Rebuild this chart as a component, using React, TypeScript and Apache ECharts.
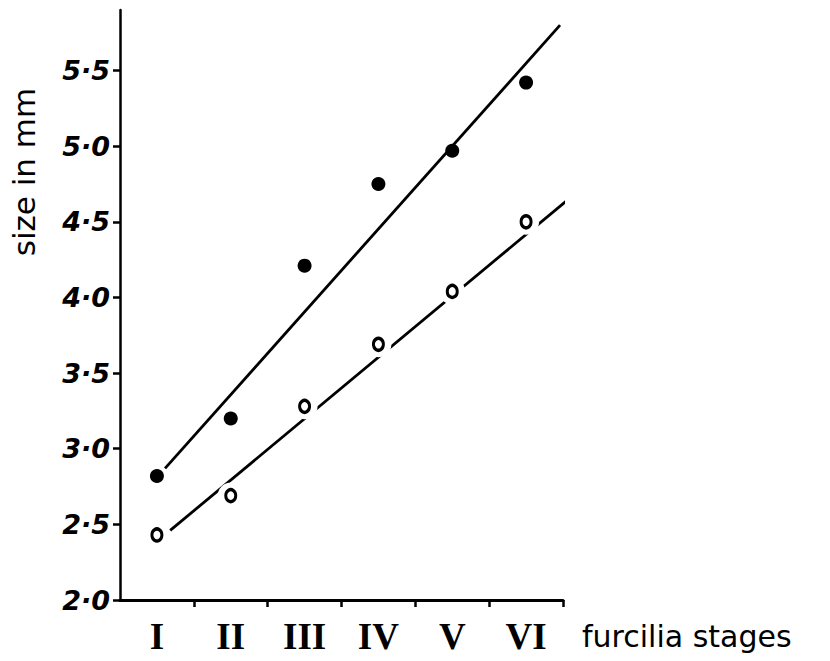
import React, { useEffect, useRef } from "react";
import * as echarts from "echarts";

// furcilia stages (tick labels) and their positions on the stage axis
const stages = ["I", "II", "III", "IV", "V", "VI"];
const stageX = [1, 2, 3, 4, 5, 6];
const stageBounds = [1.5, 2.5, 3.5, 4.5, 5.5, 6.5];

// size in mm: filled dots and open circles
const filledSizes = [2.82, 3.2, 4.21, 4.75, 4.97, 5.42];
const openSizes = [2.43, 2.69, 3.28, 3.69, 4.04, 4.5];

// fitted lines (stage, size) end points
const upperFit = [
  [1.11, 2.87],
  [6.46, 5.8],
];
const lowerFit = [
  [1.18, 2.46],
  [6.97, 4.81],
];

// y tick values
const yTicks = [2.0, 2.5, 3.0, 3.5, 4.0, 4.5, 5.0, 5.5];

export default function App() {
  const ref = useRef<HTMLDivElement>(null);

  useEffect(() => {
    if (!ref.current) return;
    const chart = echarts.init(ref.current, null, { renderer: "svg" });
    const filled = stageX.map((x, i) => [x, filledSizes[i]]);
    const open = stageX.map((x, i) => [x, openSizes[i]]);
    const black = "#000";
    chart.setOption({
      animation: false,
      backgroundColor: "#fff",
      grid: { left: 120, top: 10, width: 443, height: 590, containLabel: false },
      xAxis: {
        type: "value",
        min: 0.5,
        max: 6.5,
        splitLine: { show: false },
        axisLine: { show: true, onZero: false, lineStyle: { color: black, width: 3 } },
        axisTick: {
          show: true,
          length: 7,
          customValues: stageBounds,
          lineStyle: { color: black, width: 2.5 },
        },
        axisLabel: {
          customValues: stageX,
          formatter: (v: number) => stages[Math.round(v) - 1] || "",
          fontFamily: "Liberation Serif",
          fontWeight: "bold",
          fontSize: 37,
          color: black,
          margin: 18,
        },
      },
      yAxis: {
        type: "value",
        min: 2,
        max: 5.9,
        splitLine: { show: false },
        axisLine: { show: true, onZero: false, lineStyle: { color: black, width: 2.5 } },
        axisTick: {
          show: true,
          length: 7,
          customValues: yTicks,
          lineStyle: { color: black, width: 2.5 },
        },
        axisLabel: {
          customValues: yTicks,
          formatter: (v: number) => v.toFixed(1).replace(".", "·"),
          fontFamily: "DejaVu Sans",
          fontWeight: "bold",
          fontStyle: "italic",
          fontSize: 27,
          color: black,
          margin: 10,
        },
      },
      graphic: [
        {
          type: "text",
          x: 24,
          y: 172,
          rotation: Math.PI / 2,
          style: {
            text: "size in mm",
            fontSize: 31,
            fontFamily: "DejaVu Sans",
            fill: black,
            align: "center",
            verticalAlign: "middle",
          },
        },
        {
          type: "text",
          x: 582,
          y: 636,
          style: {
            text: "furcilia stages",
            fontSize: 30,
            fontFamily: "DejaVu Sans",
            fill: black,
            align: "left",
            verticalAlign: "middle",
          },
        },
      ],
      series: [
        {
          type: "line",
          data: upperFit,
          showSymbol: false,
          clip: false,
          silent: true,
          z: 1,
          lineStyle: { color: black, width: 2.8 },
        },
        {
          type: "line",
          data: lowerFit,
          showSymbol: false,
          clip: false,
          silent: true,
          z: 1,
          lineStyle: { color: black, width: 2.8 },
        },
        {
          type: "scatter",
          data: open,
          symbol: "circle",
          symbolSize: 26,
          silent: true,
          z: 2,
          itemStyle: { color: "#fff", opacity: 1 },
        },
        {
          type: "scatter",
          data: open,
          symbol: "circle",
          symbolSize: [10, 12],
          silent: true,
          z: 3,
          itemStyle: { color: "#fff", borderColor: black, borderWidth: 3.2, opacity: 1 },
        },
        {
          type: "scatter",
          data: filled,
          symbol: "circle",
          symbolSize: 14,
          silent: true,
          z: 3,
          itemStyle: { color: black, opacity: 1 },
        },
      ],
    });
    return () => chart.dispose();
  }, []);

  return (
    <div
      ref={ref}
      style={{ position: "absolute", left: 0, top: 0, width: 830, height: 661 }}
    />
  );
}
